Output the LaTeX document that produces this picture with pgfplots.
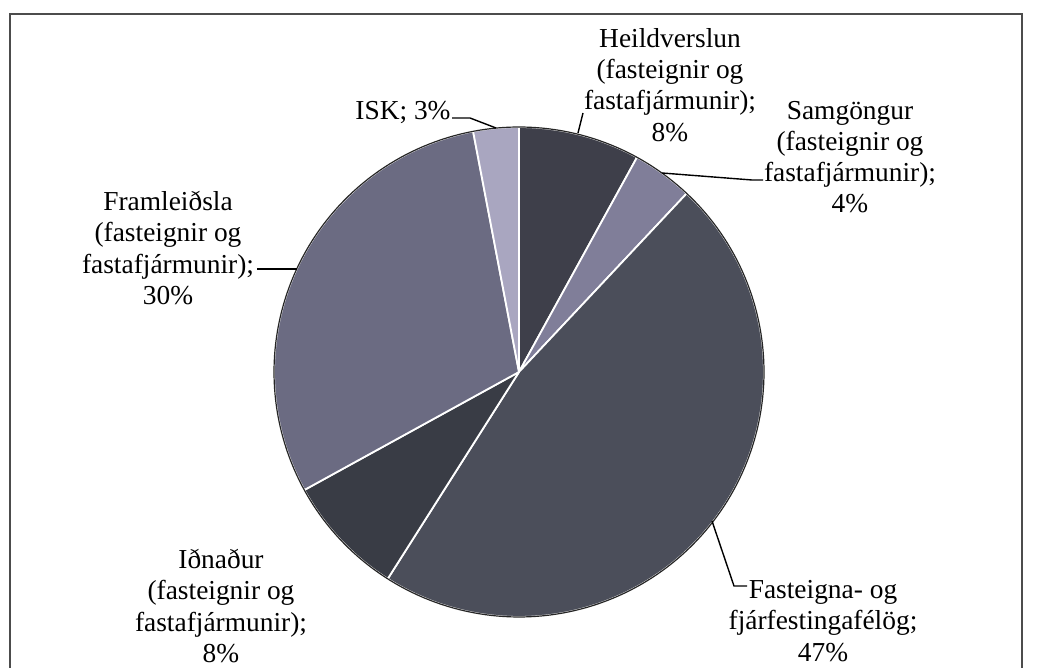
\documentclass[border=0pt]{standalone}
\usepackage{fontspec}
\setmainfont{Liberation Serif}
\usepackage{pgfplots}
\pgfplotsset{compat=1.18}
\definecolor{cHeild}{HTML}{3E3F4A}
\definecolor{cSam}{HTML}{807E99}
\definecolor{cFast}{HTML}{4B4E5A}
\definecolor{cIdn}{HTML}{393C45}
\definecolor{cFram}{HTML}{6B6B82}
\definecolor{cISK}{HTML}{A9A6C0}
\tikzset{lbl/.style={font=\fontsize{13.7}{15.6}\selectfont, align=center, inner sep=0pt}}
\def\cum{0}
\newcommand\pieslice[2]{%
  \pgfmathsetmacro\aA{90-3.6*\cum}%
  \pgfmathsetmacro\cumnew{\cum+#1}%
  \pgfmathsetmacro\aB{90-3.6*\cumnew}%
  \global\let\cum\cumnew
  \edef\doslice{\noexpand\addplot[fill=#2, draw=white, line width=0.9pt, line join=round, domain=\aB:\aA, samples=120] ({519+245*cos(x)},{296+245*sin(x)}) -- (axis cs:519,296) -- cycle;}%
  \doslice
}
\begin{document}
\begin{tikzpicture}
\begin{axis}[
  width=520.5pt, height=334pt, scale only axis,
  xmin=0, xmax=1041, ymin=0, ymax=668,
  axis lines=none, clip=false,
]
\path (rel axis cs:0,0) rectangle (rel axis cs:1,1);
% frame
\draw[black!70, line width=0.8pt] (axis cs:10,0) -- (axis cs:10,654) -- (axis cs:1022,654) -- (axis cs:1022,0);
% slices (percent)
\pieslice{8}{cHeild}
\pieslice{4}{cSam}
\pieslice{47}{cFast}
\pieslice{8}{cIdn}
\pieslice{30}{cFram}
\pieslice{3}{cISK}
\addplot[draw=black!85, line width=0.6pt, domain=0:360, samples=240] ({519+245*cos(x)},{296+245*sin(x)});
% leader lines
\draw[black, line width=0.7pt] (axis cs:452,550) -- (axis cs:470,550) -- (axis cs:496,540);
\draw[black, line width=0.7pt] (axis cs:583,555) -- (axis cs:578,535);
\draw[black, line width=0.7pt] (axis cs:662,495) -- (axis cs:752,488) -- (axis cs:763,488);
\draw[black, line width=0.7pt] (axis cs:257,399) -- (axis cs:297,399);
\draw[black, line width=0.7pt] (axis cs:712,147) -- (axis cs:734,82) -- (axis cs:747,82);
% labels
\node[lbl] at (axis cs:403,555) {ISK; 3\%};
\node[lbl] at (axis cs:670,583) {Heildverslun\\(fasteignir og\\fastafjármunir);\\8\%};
\node[lbl] at (axis cs:850,511) {Samgöngur\\(fasteignir og\\fastafjármunir);\\4\%};
\node[lbl] at (axis cs:168,420) {Framleiðsla\\(fasteignir og\\fastafjármunir);\\30\%};
\node[lbl] at (axis cs:221,62) {Iðnaður\\(fasteignir og\\fastafjármunir);\\8\%};
\node[lbl] at (axis cs:823,47) {Fasteigna- og\\fjárfestingafélög;\\47\%};
\end{axis}
\end{tikzpicture}
\end{document}
